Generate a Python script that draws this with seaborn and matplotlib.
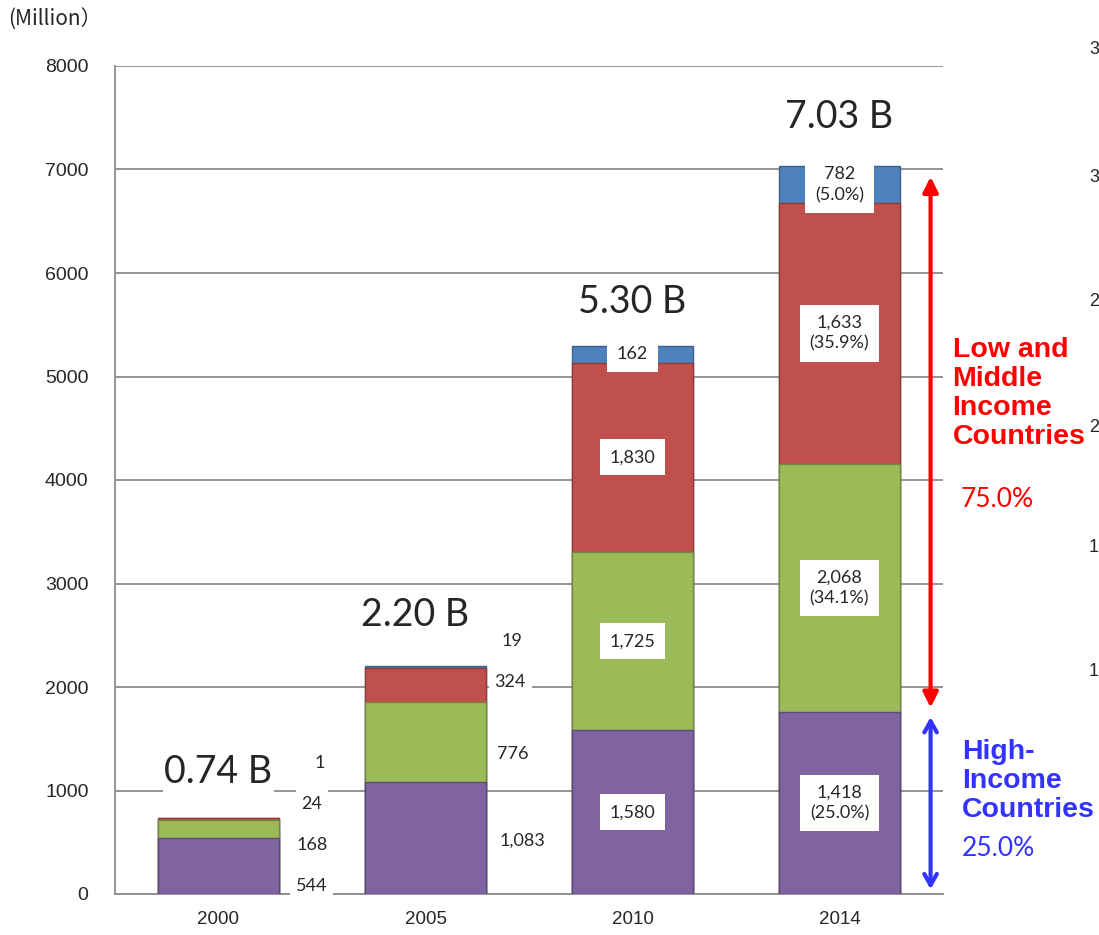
import matplotlib
matplotlib.use("Agg")
import matplotlib.pyplot as plt
import seaborn as sns
import pandas as pd
import numpy as np

# ---- data ----
years = ["2000", "2005", "2010", "2014"]
segments = ["High-income", "Upper-middle", "Lower-middle", "Low"]
high_income = [544, 1083, 1580, 1757.5]
upper_middle = [168, 776, 1725, 2397]
lower_middle = [24, 324, 1830, 2524]
low_income = [1, 19, 162, 351.5]
labels_high = ["544", "1,083", "1,580", "1,418\n(25.0%)"]
labels_upper = ["168", "776", "1,725", "2,068\n(34.1%)"]
labels_lower = ["24", "324", "1,830", "1,633\n(35.9%)"]
labels_low = ["1", "19", "162", "782\n(5.0%)"]
totals_text = ["0.74 B", "2.20 B", "5.30 B", "7.03 B"]
yticks = [0, 1000, 2000, 3000, 4000, 5000, 6000, 7000, 8000]
right_axis_labels = ["3", "3", "2", "2", "1", "1"]

colors = ["#8064A2", "#9BBB59", "#C0504D", "#4F81BD"]
edges = ["#5E4A7A", "#71893F", "#8E3A38", "#3A5F8C"]

sns.set_style("white")
plt.rcParams["font.family"] = ["Liberation Sans", "DejaVu Sans"]

fig = plt.figure(figsize=(10.99, 9.35), dpi=100)
ax = fig.add_axes([115/1099, 41/935, (943-115)/1099, (894-66)/935])

layers = [high_income, upper_middle, lower_middle, low_income]
cum = np.cumsum(np.array(layers, dtype=float), axis=0)
df = pd.DataFrame({"year": years})
# draw from top layer down so lower layers cover
for i in range(3, -1, -1):
    df["v"] = cum[i]
    sns.barplot(data=df, x="year", y="v", color=colors[i], width=0.58,
                edgecolor=edges[i], linewidth=1.0, saturation=1, ax=ax, zorder=3)

ax.set_xlim(-0.5, 3.5)
ax.set_ylim(0, 8000)
ax.set_yticks(yticks)
ax.set_yticklabels([str(t) for t in yticks])
ax.set_xlabel("")
ax.set_ylabel("")
grid_c = "#8C8C8C"
ax.yaxis.grid(True, color=grid_c, linewidth=1.3, zorder=0)
ax.set_axisbelow(True)
for s in ["top", "right"]:
    ax.spines[s].set_visible(False)
for s in ["left", "bottom"]:
    ax.spines[s].set_color(grid_c)
    ax.spines[s].set_linewidth(1.3)
ax.tick_params(axis="y", direction="out", length=8, width=1.3, color=grid_c,
               labelsize=14, pad=11)
ax.set_xticks([0, 1, 2, 3], labels=years)
ax.tick_params(axis="x", which="major", length=0, labelsize=13.5, pad=12)
ax.set_xticks([-0.5, 0.5, 1.5, 2.5, 3.5], minor=True)
ax.tick_params(axis="x", which="minor", direction="out", length=8, width=1.3, color=grid_c)

lab_font = ["Lato", "DejaVu Sans"]
box = dict(facecolor="white", edgecolor="none", pad=4)
all_labels = [labels_high, labels_upper, labels_lower, labels_low]

# inside labels for 2010 and 2014
for j in [2, 3]:
    for i in range(4):
        bottom = cum[i - 1][j] if i > 0 else 0
        ymid = (bottom + cum[i][j]) / 2
        ax.text(j, ymid, all_labels[i][j], ha="center", va="center", fontsize=13,
                family=lab_font, bbox=dict(facecolor="white", edgecolor="none",
                                           pad=7), zorder=5, linespacing=1.35)

# outside labels for 2000 and 2005
out_pos = {0: [(0.45, 77), (0.45, 473), (0.45, 870), (0.49, 1266)],
           1: [(1.47, 512), (1.42, 1353), (1.41, 2048), (1.42, 2444)]}
for j, pos in out_pos.items():
    for i, (xx, yy) in enumerate(pos):
        ax.text(xx, yy, all_labels[i][j], ha="center", va="center", fontsize=13,
                family=lab_font, bbox=box, zorder=5)

# totals
tot_offsets = [440, 494, 423, 477]
tot_x = [0, 0.95, 2, 3]
for j in range(4):
    ax.text(tot_x[j], cum[3][j] + tot_offsets[j], totals_text[j],
            ha="center", va="center", fontsize=27, family=lab_font, zorder=5,
            bbox=dict(facecolor="white", edgecolor="none", pad=1) if j == 0 else None)

# arrows
ax.annotate("", xy=(3.44, 6930), xytext=(3.44, 1800),
            arrowprops=dict(arrowstyle="<|-|>,head_length=0.9,head_width=0.45",
                            color="#FF0000", lw=3, shrinkA=0, shrinkB=0),
            annotation_clip=False, zorder=6)
ax.annotate("", xy=(3.44, 1710), xytext=(3.44, 45),
            arrowprops=dict(arrowstyle="<->,head_length=0.8,head_width=0.45",
                            color="#3333FF", lw=3, shrinkA=0, shrinkB=0),
            annotation_clip=False, zorder=6)

ax.text(3.546, 4831, "Low and\nMiddle\nIncome\nCountries", color="#FF0000",
        fontsize=20.5, fontweight="bold", ha="left", va="center", linespacing=1.15,
        clip_on=False)
ax.text(3.585, 3807, "75.0%", color="#FF0000", fontsize=19, ha="left",
        va="center", family=lab_font, clip_on=False)
ax.text(3.59, 1092, "High-\nIncome\nCountries", color="#3333FF",
        fontsize=20.5, fontweight="bold", ha="left", va="center", linespacing=1.15,
        clip_on=False)
ax.text(3.59, 444, "25.0%", color="#3333FF", fontsize=19, ha="left",
        va="center", family=lab_font, clip_on=False)

fig.text(8/1099, 1 - 20/935, "(Million\uff09", fontsize=15, ha="left", va="center",
         family=["Noto Sans CJK JP", "DejaVu Sans"])

right_y = [50, 178, 302, 427, 547, 672]
for t, yp in zip(right_axis_labels, right_y):
    fig.text(1089/1099, 1 - yp/935, t, fontsize=13, ha="left", va="center")

fig.savefig("out.png", dpi=100)
